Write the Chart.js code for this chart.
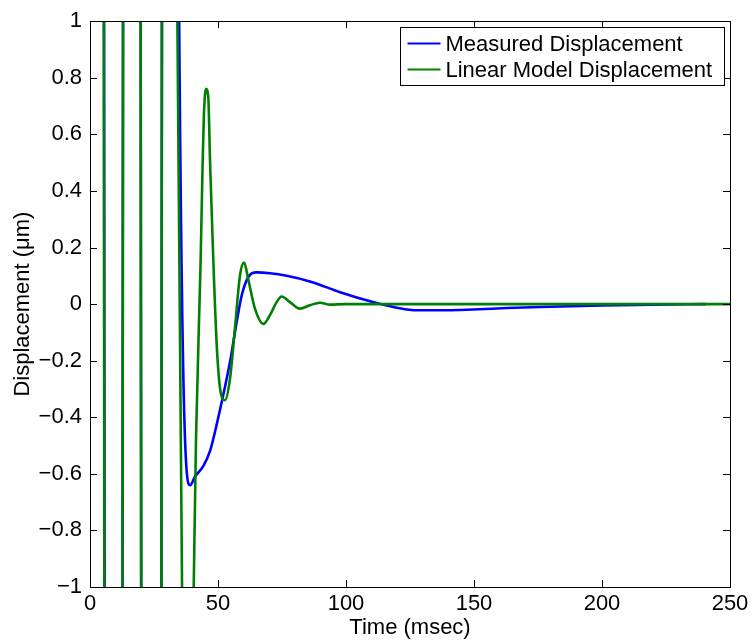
<!DOCTYPE html>
<html>
<head>
<meta charset="utf-8">
<script src="https://cdn.jsdelivr.net/npm/chart.js@4.4.1/dist/chart.umd.min.js"></script>
<style>
html, body { margin: 0; padding: 0; background: #fff; }
</style>
</head>
<body>
<canvas id="Chart" width="753" height="643"></canvas>
<script>
// 軸の目盛り
const xTickValues = [0, 50, 100, 150, 200, 250];
const xTickLabels = ['0', '50', '100', '150', '200', '250'];
const yTickValues = [-1, -0.8, -0.6, -0.4, -0.2, 0, 0.2, 0.4, 0.6, 0.8, 1];
const yTickLabels = ['\u22121', '\u22120.8', '\u22120.6', '\u22120.4', '\u22120.2', '0', '0.2', '0.4', '0.6', '0.8', '1'];

// 測定値 (msec, µm)
const measuredTime = [0, 3, 5.1, 6.1, 9, 12.3, 13.3, 16, 19.4, 20.4, 24, 27.5, 28.5, 31.5, 34.5,
	39.1, 41.0, 44.3, 46.9, 49.5, 52.1, 54.7, 57.3, 59.3, 61.8, 65.1, 70.3, 76.8, 85.9, 97.7,
	110.5, 115.9, 123.7, 130, 137, 149.6, 162.8, 175.8, 200, 220, 240.5];
const measuredDisp = [12, 14, 5, -5, -14, -5, 5, 14, 5, -5, -14, -5, 5, 12, 1.4,
	-0.64, -0.61, -0.572, -0.519, -0.425, -0.319, -0.204, -0.063, 0.032, 0.095, 0.112, 0.109, 0.100, 0.080, 0.042,
	0.007, -0.005, -0.019, -0.022, -0.022, -0.019, -0.014, -0.010, -0.005, -0.002, 0];

// 線形モデル
const modelTime = [0, 3, 5.0, 6.0, 9, 12.3, 13.3, 16, 19.4, 20.4, 24, 27.5, 28.5, 31, 33.5,
	36.5, 38.5, 40.6, 41.4, 43.2, 44.0, 44.5, 45.3, 46.2, 46.9, 48.2, 49.5, 50.8, 52.7,
	54.7, 56.6, 58.6, 60.2, 61.8, 64.5, 67.7, 70.3, 72.9, 74.9, 78.1, 82.0, 85.9, 89.8,
	93.8, 99.6, 250];
const modelDisp = [12, 15, 5, -5, -15, -5, 5, 14, 5, -5, -12, -5, 5, 8, 1.7,
	-1.6, -2.0, -0.95, -0.48, 0.147, 0.50, 0.67, 0.761, 0.732, 0.50, 0.147, -0.144, -0.298, -0.34,
	-0.263, -0.088, 0.102, 0.147, 0.088, -0.018, -0.070, -0.039, 0.007, 0.027, 0.007, -0.016, -0.004, 0.005,
	-0.002, 0, 0];

const FONT = 'Liberation Sans, Arial, Helvetica, sans-serif';

function toPoints(xs, ys) {
	return xs.map((x, i) => ({x: x, y: ys[i]}));
}

// 内向きの目盛り線・枠線・凡例
const framePlugin = {
	id: 'frame',
	afterDraw(chart) {
		const ctx = chart.ctx;
		const a = chart.chartArea;
		const xs = chart.scales.x, ys = chart.scales.y;
		ctx.save();
		ctx.strokeStyle = '#000';
		ctx.lineWidth = 1;
		ctx.beginPath();
		xTickValues.forEach(v => {
			const px = Math.round(xs.getPixelForValue(v)) + 0.5;
			ctx.moveTo(px, a.bottom); ctx.lineTo(px, a.bottom - 7);
			ctx.moveTo(px, a.top); ctx.lineTo(px, a.top + 7);
		});
		yTickValues.forEach(v => {
			const py = Math.round(ys.getPixelForValue(v)) + 0.5;
			ctx.moveTo(a.left, py); ctx.lineTo(a.left + 7, py);
			ctx.moveTo(a.right, py); ctx.lineTo(a.right - 7, py);
		});
		ctx.stroke();
		ctx.strokeRect(Math.round(a.left) + 0.5, Math.round(a.top) + 0.5,
			Math.round(a.right - a.left), Math.round(a.bottom - a.top));

		// 凡例
		ctx.font = '22px ' + FONT;
		const items = chart.data.datasets;
		let tw = 0;
		items.forEach(d => { tw = Math.max(tw, ctx.measureText(d.label).width); });
		const boxW = Math.round(7 + 33 + 5 + tw + 12);
		const boxH = 58;
		const bx = Math.round(a.right - 6 - boxW) + 0.5;
		const by = Math.round(a.top + 6) + 0.5;
		ctx.fillStyle = '#fff';
		ctx.fillRect(bx, by, boxW, boxH);
		ctx.strokeRect(bx, by, boxW, boxH);
		ctx.textBaseline = 'middle';
		items.forEach((d, i) => {
			const cy = by + 16 + i * 26;
			ctx.strokeStyle = d.borderColor;
			ctx.lineWidth = 2;
			ctx.beginPath();
			ctx.moveTo(bx + 7, cy); ctx.lineTo(bx + 40, cy);
			ctx.stroke();
			ctx.fillStyle = '#000';
			ctx.fillText(d.label, bx + 45, cy + 1);
		});
		ctx.restore();
	}
};

let lineCtx = document.getElementById('Chart');
let lineConfig = {
	type: 'line',
	data: {
		datasets: [{
			label: 'Measured Displacement',
			data: toPoints(measuredTime, measuredDisp),
			borderColor: '#0000ff',
			borderWidth: 2.6,
			pointRadius: 0,
			cubicInterpolationMode: 'monotone',
			clip: 0,
			order: 1,
		}, {
			label: 'Linear Model Displacement',
			data: toPoints(modelTime, modelDisp),
			borderColor: '#008000',
			borderWidth: 2.6,
			pointRadius: 0,
			cubicInterpolationMode: 'monotone',
			clip: 0,
			order: 0,
		}],
	},
	options: {
		responsive: false,
		animation: false,
		events: [],
		layout: {
			padding: {top: 17, right: 23, left: 0, bottom: 0}
		},
		plugins: {
			legend: {display: false},
			tooltip: {enabled: false},
		},
		scales: {
			x: {
				type: 'linear',
				min: 0,
				max: 250,
				grid: {display: false, drawTicks: false},
				border: {display: false},
				afterBuildTicks: s => { s.ticks = xTickValues.map(v => ({value: v})); },
				afterFit: s => { s.height = 56; },
				ticks: {
					color: '#000',
					padding: 4,
					maxRotation: 0,
					font: {family: FONT, size: 22},
					callback: (v, i) => xTickLabels[i],
				},
				title: {
					display: true,
					text: 'Time (msec)',
					color: '#000',
					font: {family: FONT, size: 22},
					padding: {top: 0, bottom: 2},
				},
			},
			y: {
				min: -1,
				max: 1,
				grid: {display: false, drawTicks: false},
				border: {display: false},
				afterBuildTicks: s => { s.ticks = yTickValues.map(v => ({value: v})); },
				afterFit: s => { s.width = 90; },
				ticks: {
					color: '#000',
					padding: 8,
					font: {family: FONT, size: 22},
					callback: (v, i) => yTickLabels[i],
				},
				title: {
					display: true,
					text: 'Displacement (\u03bcm)',
					color: '#000',
					font: {family: FONT, size: 22},
					padding: {top: 10, bottom: 0},
				},
			}
		},
	},
	plugins: [framePlugin],
};
let lineChart = new Chart(lineCtx, lineConfig);
</script>
</body>
</html>
